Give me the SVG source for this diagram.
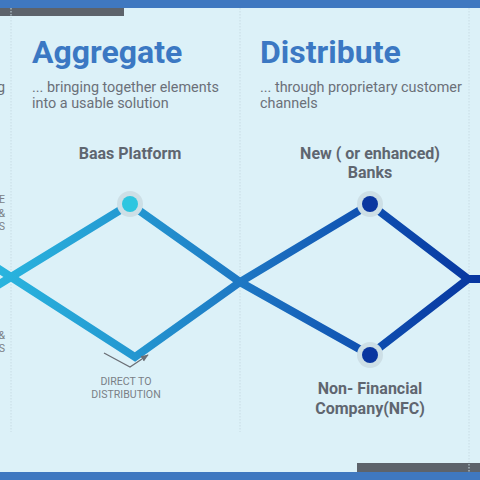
<svg xmlns="http://www.w3.org/2000/svg" width="480" height="480" viewBox="0 0 480 480">
<defs>
<linearGradient id="lineGrad" gradientUnits="userSpaceOnUse" x1="0" y1="0" x2="480" y2="0">
<stop offset="0" stop-color="#29b4de"/>
<stop offset="0.27" stop-color="#2498d1"/>
<stop offset="0.5" stop-color="#1e78c4"/>
<stop offset="0.77" stop-color="#0f4fb0"/>
<stop offset="1" stop-color="#0736a0"/>
</linearGradient>
<marker id="arrowHead" viewBox="0 0 10 10" refX="9" refY="5" markerWidth="6" markerHeight="6" orient="auto">
<path d="M0,1 L10,5 L0,9 z" fill="#6b6f76"/>
</marker>
<style>
.title{font-family:Roboto,"Liberation Sans",sans-serif;font-weight:700;font-size:32px;fill:#3b78c3}
.sub{font-family:Roboto,"Liberation Sans",sans-serif;font-size:14.4px;fill:#6b7078}
.label{font-family:Roboto,"Liberation Sans",sans-serif;font-weight:700;font-size:16px;fill:#5f6670;text-anchor:middle}
.small{font-family:Roboto,"Liberation Sans",sans-serif;font-size:10.6px;fill:#7a7f86}
.divider{stroke:#c8dce4;stroke-width:1;stroke-dasharray:1.5 1.5;fill:none}
.conn{fill:none;stroke:url(#lineGrad);stroke-width:8;stroke-linejoin:miter;stroke-miterlimit:6}
.halo{fill:#cddfe6}
</style>
</defs>
<rect x="0" y="0" width="480" height="480" fill="#dcf1f8"/>
<g id="frame">
<rect x="0" y="0" width="480" height="8" fill="#3f78c0"/>
<rect x="0" y="8" width="124" height="8" fill="#5d636b"/>
<rect x="357" y="463" width="123" height="9" fill="#5d636b"/>
<rect x="0" y="472" width="480" height="8" fill="#3f78c0"/>
<line class="divider" x1="11" y1="8" x2="11" y2="432"/>
<line class="divider" x1="240" y1="8" x2="240" y2="432"/>
<line class="divider" x1="469" y1="8" x2="469" y2="472"/>
</g>
<g id="headers">
<text class="sub" x="5" y="92" text-anchor="end">g</text>
<text class="title" x="32" y="63">Aggregate</text>
<text class="sub" x="32" y="92">... bringing together elements</text>
<text class="sub" x="32" y="108">into a usable solution</text>
<text class="title" x="260" y="63">Distribute</text>
<text class="sub" x="260" y="92">... through proprietary customer</text>
<text class="sub" x="260" y="108">channels</text>
</g>
<g id="left-labels">
<text class="small" x="5" y="203" text-anchor="end">E</text>
<text class="small" x="5" y="217" text-anchor="end">&amp;</text>
<text class="small" x="5" y="230" text-anchor="end">S</text>
<text class="small" x="5" y="339" text-anchor="end">&amp;</text>
<text class="small" x="5" y="352" text-anchor="end">S</text>
</g>
<g id="connectors">
<path class="conn" d="M-6,287.4 L130,204 L240,282 L370,355 L468,279 L486,279"/>
<path class="conn" d="M-6,266 L135,357 L240,282 L370,204 L468,279"/>
<polyline points="104,353 130,367 148,355" fill="none" stroke="#6b6f76" stroke-width="1.3" marker-end="url(#arrowHead)"/>
</g>
<g id="node-baas">
<circle class="halo" cx="130" cy="204" r="13"/>
<circle cx="130" cy="204" r="8" fill="#2ec6e0"/>
<text class="label" x="130" y="159">Baas Platform</text>
</g>
<g id="node-direct">
<text class="small" x="126" y="385" text-anchor="middle">DIRECT TO</text>
<text class="small" x="126" y="398" text-anchor="middle">DISTRIBUTION</text>
</g>
<g id="node-banks">
<circle class="halo" cx="370" cy="204" r="13"/>
<circle cx="370" cy="204" r="8" fill="#0a36a0"/>
<text class="label" x="370" y="159">New ( or enhanced)</text>
<text class="label" x="370" y="178">Banks</text>
</g>
<g id="node-nfc">
<circle class="halo" cx="370" cy="355" r="13"/>
<circle cx="370" cy="355" r="8" fill="#0a36a0"/>
<text class="label" x="370" y="394">Non- Financial</text>
<text class="label" x="370" y="414">Company(NFC)</text>
</g>
</svg>
